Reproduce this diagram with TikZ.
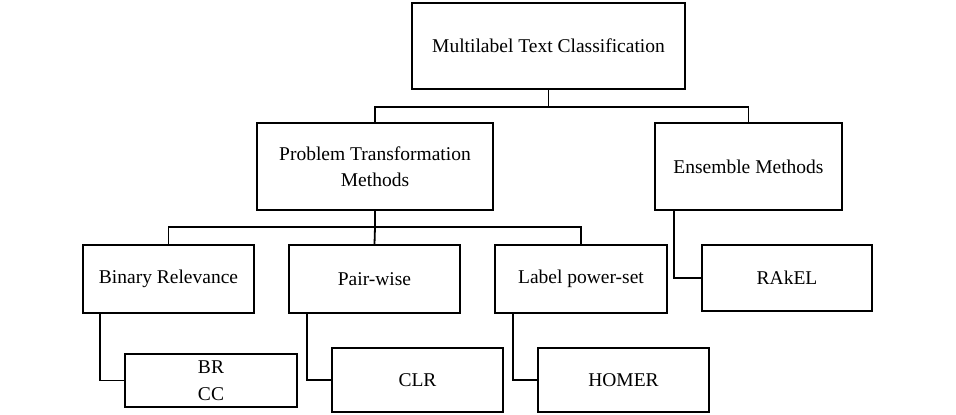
\documentclass[tikz,border=0pt]{standalone}
\usepackage{fontspec}
\setmainfont{Liberation Serif}
\begin{document}
\begin{tikzpicture}[x=1pt,y=-1pt,
  box/.style={draw=black,line width=1.8pt,rectangle,inner sep=0pt,align=center,
    font=\fontsize{19.5}{26.5}\selectfont},
  conn/.style={draw=black,line width=1.8pt}]
\useasboundingbox (0,0) rectangle (956,415);
\node[box,minimum width=273,minimum height=86] (top) at (548.5,46) {Multilabel Text Classification};
\node[box,minimum width=236,minimum height=87] (ptm) at (375,166.5) {Problem Transformation\\Methods};
\node[box,minimum width=187,minimum height=87] (ens) at (748.5,166.5) {Ensemble Methods};
\node[box,minimum width=171,minimum height=68] (binrel) at (168.5,279) {Binary Relevance};
\node[box,minimum width=171,minimum height=68] (pair) at (374.5,279) {Pair-wise};
\node[box,minimum width=172,minimum height=68] (lps) at (581,279) {Label power-set};
\node[box,minimum width=170,minimum height=66] (rakel) at (787,278) {RAkEL};
\node[box,minimum width=172,minimum height=53] (brcc) at (211,380.5) {BR\\CC};
\node[box,minimum width=171,minimum height=64] (clr) at (417.5,380) {CLR};
\node[box,minimum width=171,minimum height=64] (homer) at (623.5,380) {HOMER};
\coordinate (j1) at (548.5,107);
\coordinate (j2) at (375,227);
\draw[conn] (top.south) -- (j1);
\draw[conn] (ptm.north) |- (j1) -| (ens.north);
\draw[conn] (ptm.south) -- (j2);
\draw[conn] (binrel.north) |- (j2) -| (lps.north);
\draw[conn] (j2) -- (pair.north);
\draw[conn] ([xshift=-68.5pt]binrel.south) |- (brcc.west);
\draw[conn] ([xshift=-67.5pt]pair.south) |- (clr.west);
\draw[conn] ([xshift=-68pt]lps.south) |- (homer.west);
\draw[conn] ([xshift=-74.5pt]ens.south) |- (rakel.west);
\end{tikzpicture}
\end{document}
